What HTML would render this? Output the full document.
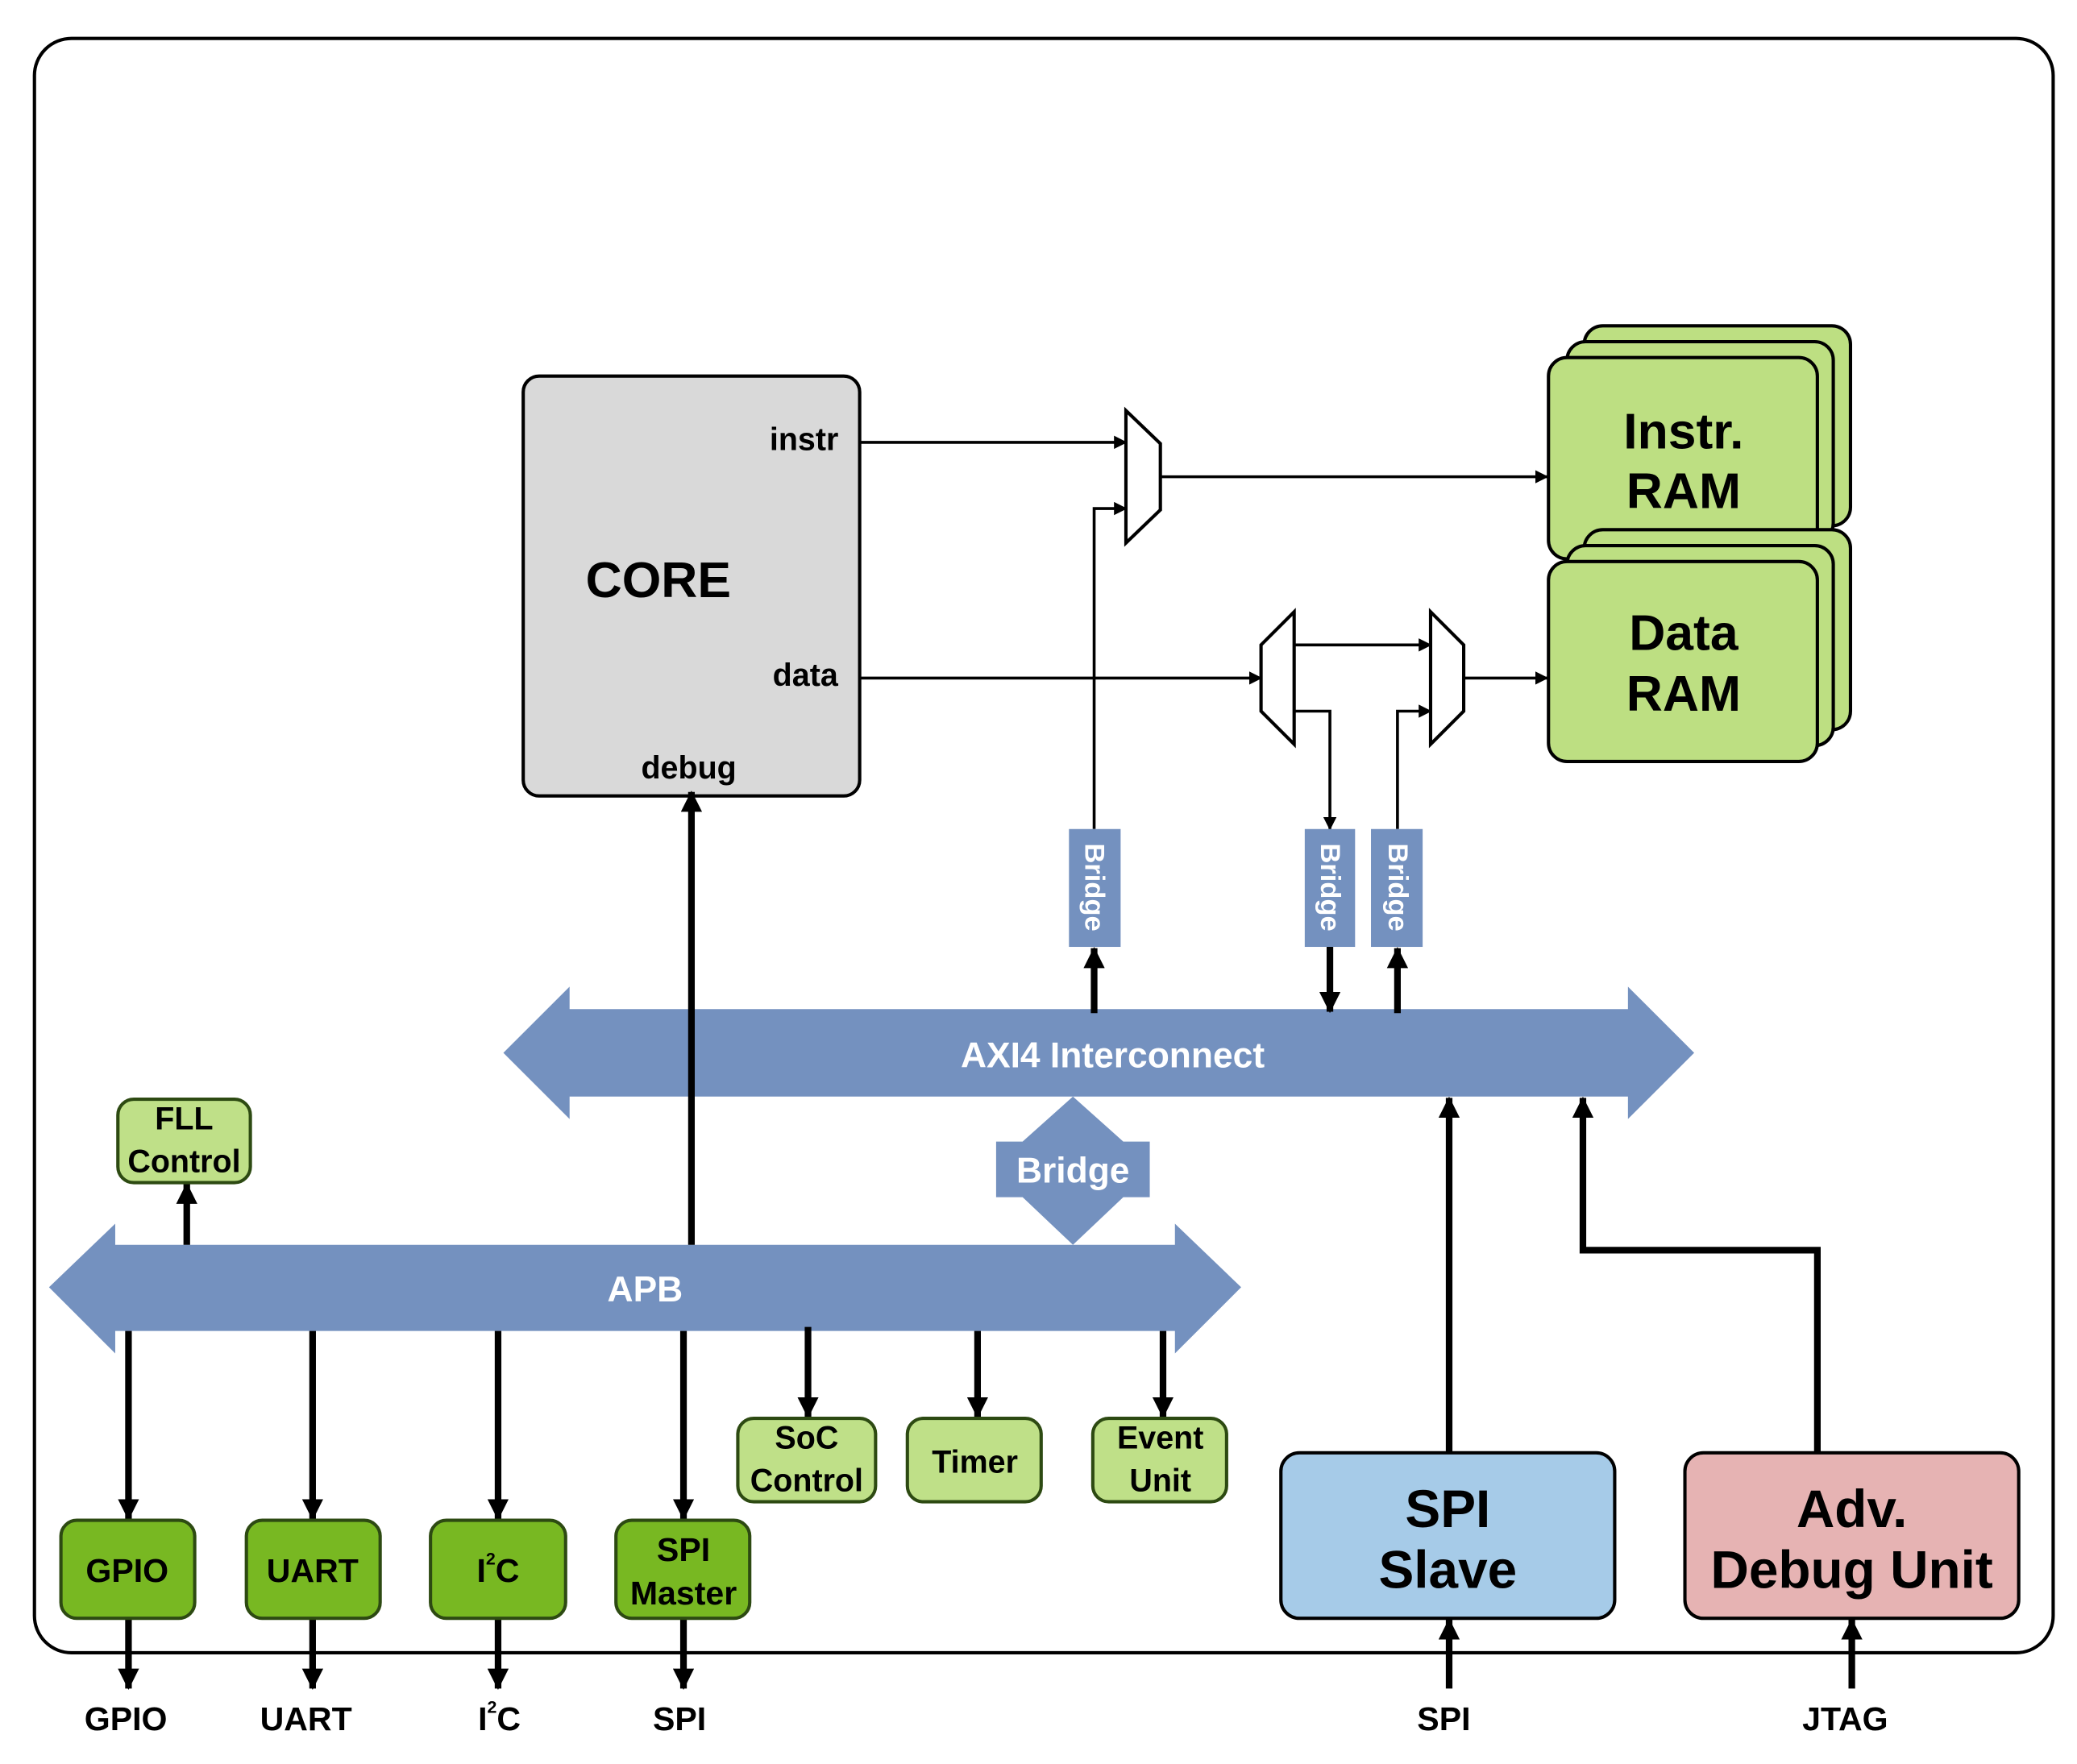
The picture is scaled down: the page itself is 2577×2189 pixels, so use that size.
<!DOCTYPE html>
<html><head><meta charset="utf-8"><style>
html,body{margin:0;padding:0;background:#fff;}
svg{display:block;}
text{font-family:"Liberation Sans",Arial,sans-serif;font-weight:bold;text-anchor:middle;dominant-baseline:central;}
</style></head><body>
<svg width="2577" height="2189" viewBox="0 0 1568 1332" preserveAspectRatio="none" xmlns="http://www.w3.org/2000/svg">
<defs>
<marker id="a" markerWidth="10" markerHeight="10" refX="9" refY="5" orient="auto" markerUnits="userSpaceOnUse"><path d="M0,0 L10,5 L0,10 z" fill="#000"/></marker>
<marker id="b" markerWidth="16" markerHeight="16" refX="15" refY="8" orient="auto" markerUnits="userSpaceOnUse"><path d="M0,0 L16,8 L0,16 z" fill="#000"/></marker>
</defs>
<rect x="26" y="29" width="1524" height="1219" rx="28" fill="#fff" stroke="#000" stroke-width="2.5"/>

<!-- CORE -->
<rect x="395" y="284" width="254" height="317" rx="12" fill="#d9d9d9" stroke="#000" stroke-width="2.5"/>
<text x="497" y="438" font-size="38">CORE</text>
<text x="607" y="332" font-size="24">instr</text>
<text x="608" y="510" font-size="24">data</text>
<text x="520" y="580" font-size="24">debug</text>

<!-- RAMs -->
<g fill="#bddf82" stroke="#000" stroke-width="2.5">
<rect x="1196" y="246" width="201" height="151" rx="14"/>
<rect x="1183" y="258" width="201" height="151" rx="14"/>
<rect x="1169" y="270" width="203" height="152" rx="14"/>
<rect x="1196" y="400" width="201" height="151" rx="14"/>
<rect x="1183" y="412" width="201" height="151" rx="14"/>
<rect x="1169" y="424" width="203" height="151" rx="14"/>
</g>
<text x="1271" y="326" font-size="38">Instr.</text>
<text x="1271" y="371" font-size="38">RAM</text>
<text x="1271" y="478" font-size="38">Data</text>
<text x="1271" y="524" font-size="38">RAM</text>

<!-- muxes -->
<g fill="#fff" stroke="#000" stroke-width="2.5">
<polygon points="850,310 876,335 876,385 850,410"/>
<polygon points="952,487 977,462 977,562 952,537"/>
<polygon points="1080,462 1105,487 1105,537 1080,562"/>
</g>
<g stroke="#000" stroke-width="2.2" fill="none">
<line x1="649" y1="334" x2="850" y2="334" marker-end="url(#a)"/>
<polyline points="826,626 826,384 850,384" marker-end="url(#a)"/>
<line x1="876" y1="360" x2="1168" y2="360" marker-end="url(#a)"/>
<line x1="649" y1="512" x2="952" y2="512" marker-end="url(#a)"/>
<line x1="977" y1="487" x2="1080" y2="487" marker-end="url(#a)"/>
<line x1="1105" y1="512" x2="1168" y2="512" marker-end="url(#a)"/>
<polyline points="977,537 1004,537 1004,626" marker-end="url(#a)"/>
<polyline points="1055,626 1055,537 1080,537" marker-end="url(#a)"/>
</g>

<!-- Bridges vertical -->
<g fill="#7491bf">
<rect x="807" y="626" width="39" height="89"/>
<rect x="985" y="626" width="38" height="89"/>
<rect x="1035" y="626" width="39" height="89"/>
</g>
<g fill="#fff" font-size="21">
<text transform="translate(826,670) rotate(90)">Bridge</text>
<text transform="translate(1004,670) rotate(90)">Bridge</text>
<text transform="translate(1055,670) rotate(90)">Bridge</text>
</g>

<!-- AXI -->
<polygon points="380,795 430,745 430,762 1229,762 1229,745 1279,795 1229,845 1229,828 430,828 430,845" fill="#7491bf"/>
<text x="840" y="797" font-size="27" fill="#fff">AXI4 Interconnect</text>

<!-- Bridge AXI-APB -->
<polygon points="810,828 848,862 868,862 868,904 848,904 810,940 772,904 752,904 752,862 772,862" fill="#7491bf"/>
<text x="810" y="884" font-size="27" fill="#fff">Bridge</text>

<!-- APB -->
<polygon points="37,972 87,924 87,940 887,940 887,924 937,972 887,1022 887,1005 87,1005 87,1022" fill="#7491bf"/>
<text x="487" y="974" font-size="27" fill="#fff">APB</text>

<!-- thick arrows -->
<g stroke="#000" stroke-width="5" fill="none">
<line x1="522" y1="940" x2="522" y2="598" marker-end="url(#b)"/>
<line x1="826" y1="765" x2="826" y2="716" marker-end="url(#b)"/>
<line x1="1004" y1="715" x2="1004" y2="764" marker-end="url(#b)"/>
<line x1="1055" y1="765" x2="1055" y2="716" marker-end="url(#b)"/>
<line x1="141" y1="940" x2="141" y2="894" marker-end="url(#b)"/>
<line x1="97" y1="1005" x2="97" y2="1147" marker-end="url(#b)"/>
<line x1="236" y1="1005" x2="236" y2="1147" marker-end="url(#b)"/>
<line x1="376" y1="1005" x2="376" y2="1147" marker-end="url(#b)"/>
<line x1="516" y1="1005" x2="516" y2="1147" marker-end="url(#b)"/>
<line x1="610" y1="1002" x2="610" y2="1070" marker-end="url(#b)"/>
<line x1="738" y1="1005" x2="738" y2="1070" marker-end="url(#b)"/>
<line x1="878" y1="1005" x2="878" y2="1070" marker-end="url(#b)"/>
<line x1="97" y1="1222" x2="97" y2="1275" marker-end="url(#b)"/>
<line x1="236" y1="1222" x2="236" y2="1275" marker-end="url(#b)"/>
<line x1="376" y1="1222" x2="376" y2="1275" marker-end="url(#b)"/>
<line x1="516" y1="1222" x2="516" y2="1275" marker-end="url(#b)"/>
<line x1="1094" y1="1097" x2="1094" y2="829" marker-end="url(#b)"/>
<polyline points="1372,1097 1372,944 1195,944 1195,829" marker-end="url(#b)"/>
<line x1="1094" y1="1275" x2="1094" y2="1223" marker-end="url(#b)"/>
<line x1="1398" y1="1275" x2="1398" y2="1223" marker-end="url(#b)"/>
</g>

<!-- light green boxes -->
<g fill="#bfe088" stroke="#2d4a12" stroke-width="2.5">
<rect x="89" y="830" width="100" height="63" rx="12"/>
<rect x="557" y="1071" width="104" height="63" rx="12"/>
<rect x="685" y="1071" width="101" height="63" rx="12"/>
<rect x="825" y="1071" width="101" height="63" rx="12"/>
</g>
<g font-size="24">
<text x="139" y="845">FLL</text>
<text x="139" y="877">Control</text>
<text x="609" y="1086">SoC</text>
<text x="609" y="1118">Control</text>
<text x="736" y="1104">Timer</text>
<text x="876" y="1086">Event</text>
<text x="876" y="1118">Unit</text>
</g>

<!-- dark green boxes -->
<g fill="#78b822" stroke="#2d4a12" stroke-width="2.5">
<rect x="46" y="1148" width="101" height="74" rx="12"/>
<rect x="186" y="1148" width="101" height="74" rx="12"/>
<rect x="325" y="1148" width="102" height="74" rx="12"/>
<rect x="465" y="1148" width="101" height="74" rx="12"/>
</g>
<g font-size="25">
<text x="96" y="1186">GPIO</text>
<text x="236" y="1186">UART</text>
<text x="376" y="1186">I<tspan font-size="13" dy="-9">2</tspan><tspan dy="9">C</tspan></text>
<text x="516" y="1170">SPI</text>
<text x="516" y="1203">Master</text>
</g>

<!-- SPI slave, Debug -->
<rect x="967" y="1097" width="252" height="125" rx="14" fill="#a6cbe8" stroke="#000" stroke-width="2.5"/>
<text x="1093" y="1139" font-size="40">SPI</text>
<text x="1093" y="1185" font-size="40">Slave</text>
<rect x="1272" y="1097" width="252" height="125" rx="14" fill="#e6b3b3" stroke="#000" stroke-width="2.5"/>
<text x="1398" y="1139" font-size="40">Adv.</text>
<text x="1398" y="1185" font-size="40">Debug Unit</text>

<!-- bottom labels -->
<g font-size="25">
<text x="95" y="1298">GPIO</text>
<text x="231" y="1298">UART</text>
<text x="377" y="1298">I<tspan font-size="13" dy="-9">2</tspan><tspan dy="9">C</tspan></text>
<text x="513" y="1298">SPI</text>
<text x="1090" y="1298">SPI</text>
<text x="1393" y="1298">JTAG</text>
</g>
</svg>
</body></html>
